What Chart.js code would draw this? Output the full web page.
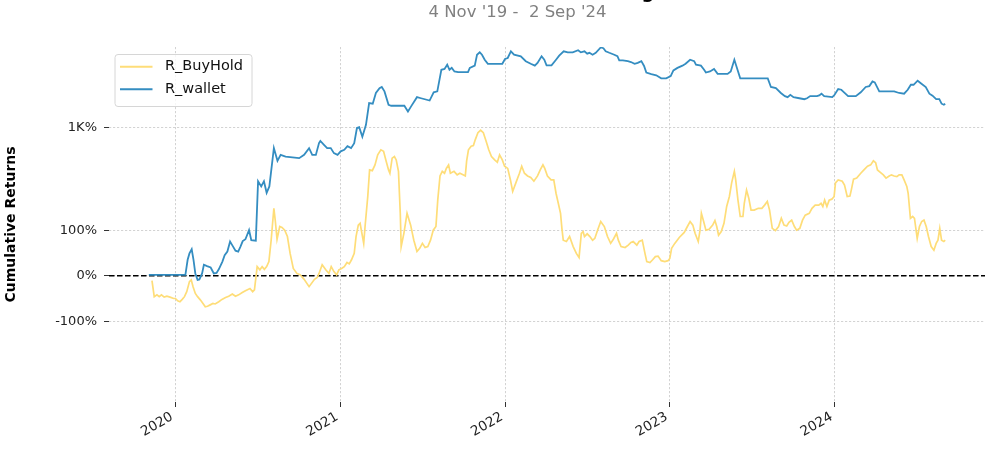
<!DOCTYPE html>
<html>
<head>
<meta charset="utf-8">
<script src="https://cdn.jsdelivr.net/npm/chart.js@4.4.1/dist/chart.umd.min.js"></script>
<style>
  body { margin: 0; background: #fff; }
  canvas { display: block; }
</style>
</head>
<body>
<canvas id="myChart" width="1000" height="455"></canvas>
<script>
// cumulative returns in %
const walletDates = ['2019-11-04','2020-01-24','2020-01-29','2020-02-02','2020-02-07','2020-02-11','2020-02-15','2020-02-20','2020-02-24','2020-03-01','2020-03-05','2020-03-12','2020-03-20','2020-03-27','2020-04-02','2020-04-07','2020-04-15','2020-04-20','2020-04-26','2020-05-02','2020-05-08','2020-05-14','2020-05-20','2020-05-25','2020-05-30','2020-06-05','2020-06-13','2020-06-18','2020-06-28','2020-07-03','2020-07-10','2020-07-16','2020-07-22','2020-07-28','2020-08-07','2020-08-15','2020-08-22','2020-09-02','2020-10-02','2020-10-13','2020-10-24','2020-10-31','2020-11-08','2020-11-15','2020-11-18','2020-11-26','2020-12-03','2020-12-11','2020-12-18','2020-12-26','2021-01-02','2021-01-10','2021-01-17','2021-01-25','2021-02-01','2021-02-07','2021-02-12','2021-02-19','2021-02-27','2021-03-06','2021-03-14','2021-03-21','2021-03-29','2021-04-03','2021-04-09','2021-04-18','2021-04-24','2021-05-23','2021-05-31','2021-06-07','2021-06-20','2021-06-29','2021-07-18','2021-07-27','2021-08-04','2021-08-13','2021-08-20','2021-08-26','2021-08-31','2021-09-05','2021-09-11','2021-09-19','2021-10-11','2021-10-15','2021-10-26','2021-10-31','2021-11-06','2021-11-11','2021-11-17','2021-11-24','2021-12-26','2022-01-01','2022-01-07','2022-01-14','2022-01-21','2022-02-05','2022-02-16','2022-02-27','2022-03-08','2022-03-14','2022-03-23','2022-03-29','2022-04-03','2022-04-14','2022-04-24','2022-05-01','2022-05-11','2022-05-20','2022-05-31','2022-06-12','2022-06-18','2022-06-26','2022-07-02','2022-07-07','2022-07-14','2022-07-21','2022-08-01','2022-08-07','2022-08-12','2022-08-20','2022-08-31','2022-09-07','2022-09-11','2022-09-19','2022-09-30','2022-10-07','2022-10-15','2022-10-22','2022-10-30','2022-11-05','2022-11-10','2022-11-21','2022-12-02','2022-12-13','2022-12-24','2023-01-03','2023-01-09','2023-01-18','2023-01-29','2023-02-05','2023-02-15','2023-02-24','2023-02-28','2023-03-11','2023-03-18','2023-03-22','2023-03-31','2023-04-09','2023-04-17','2023-05-09','2023-05-16','2023-05-24','2023-05-31','2023-06-06','2023-08-06','2023-08-13','2023-08-24','2023-09-04','2023-09-13','2023-09-19','2023-09-25','2023-10-02','2023-10-15','2023-10-26','2023-11-01','2023-11-08','2023-11-23','2023-11-28','2023-12-03','2023-12-09','2023-12-27','2024-01-01','2024-01-09','2024-01-16','2024-01-22','2024-01-31','2024-02-17','2024-02-28','2024-03-10','2024-03-18','2024-03-25','2024-03-30','2024-04-09','2024-05-12','2024-05-23','2024-06-03','2024-06-11','2024-06-18','2024-06-24','2024-07-03','2024-07-10','2024-07-21','2024-07-29','2024-08-05','2024-08-13','2024-08-20','2024-08-25','2024-08-30','2024-09-02'];
const walletPct = [2,2,35,49,58,35,5,-9,-8,5,24,21,18,5,6,14,31,45,53,75,65,55,53,64,76,80,100,78,77,220,196,220,182,196,557,390,461,440,420,461,557,461,461,641,681,611,557,557,484,461,509,531,588,557,641,980,1004,765,1072,1970,1940,2620,3000,3100,2740,1879,1830,1830,1560,1800,2330,2260,2120,2670,2740,5030,5150,5790,5030,5300,4800,4700,4700,5300,5640,7670,8200,7670,6670,5950,5950,6800,7000,8450,7670,7350,6400,5950,5640,6100,7350,6670,5700,5700,6670,7470,8450,8200,8200,8700,8200,8450,7900,8100,7670,8100,9400,9200,8450,8100,7670,7350,6550,6550,6400,6250,5950,6100,6400,5600,4650,4450,4300,3950,3950,4200,4930,5300,5640,5950,6670,6400,5790,5640,5030,4650,4800,5150,4480,4480,4800,6670,5030,3950,3950,3100,3000,2620,2400,2330,2490,2330,2260,2200,2260,2400,2400,2450,2570,2400,2330,2490,2920,2870,2670,2400,2400,2670,3100,3180,3620,3530,2740,2740,2620,2570,2870,3300,3300,3700,3450,3100,2570,2430,2200,2200,1940,1880,1940];

const buyHoldDates = ['2019-11-11','2019-11-16','2019-11-22','2019-11-27','2019-12-02','2019-12-08','2019-12-14','2019-12-21','2019-12-29','2020-01-02','2020-01-07','2020-01-12','2020-01-17','2020-01-22','2020-01-27','2020-02-02','2020-02-06','2020-02-10','2020-02-15','2020-02-20','2020-02-26','2020-03-03','2020-03-08','2020-03-13','2020-03-19','2020-03-25','2020-03-30','2020-04-07','2020-04-14','2020-04-22','2020-04-29','2020-05-07','2020-05-14','2020-05-21','2020-05-29','2020-06-05','2020-06-15','2020-06-21','2020-06-25','2020-07-01','2020-07-07','2020-07-12','2020-07-17','2020-07-22','2020-07-27','2020-08-01','2020-08-07','2020-08-10','2020-08-14','2020-08-20','2020-08-25','2020-08-31','2020-09-06','2020-09-12','2020-09-19','2020-09-27','2020-10-04','2020-10-13','2020-10-24','2020-11-05','2020-11-11','2020-11-15','2020-11-22','2020-11-30','2020-12-07','2020-12-12','2020-12-18','2020-12-24','2020-12-29','2021-01-04','2021-01-10','2021-01-16','2021-01-21','2021-01-26','2021-02-01','2021-02-05','2021-02-10','2021-02-14','2021-02-18','2021-02-22','2021-02-25','2021-03-03','2021-03-07','2021-03-13','2021-03-19','2021-03-25','2021-04-01','2021-04-07','2021-04-12','2021-04-18','2021-04-21','2021-04-26','2021-05-01','2021-05-05','2021-05-10','2021-05-14','2021-05-16','2021-05-22','2021-05-29','2021-06-06','2021-06-13','2021-06-20','2021-06-26','2021-07-02','2021-07-08','2021-07-14','2021-07-20','2021-07-26','2021-08-01','2021-08-05','2021-08-10','2021-08-15','2021-08-20','2021-08-24','2021-08-29','2021-09-02','2021-09-10','2021-09-17','2021-09-23','2021-09-30','2021-10-05','2021-10-08','2021-10-12','2021-10-18','2021-10-23','2021-10-27','2021-11-02','2021-11-08','2021-11-14','2021-11-20','2021-11-26','2021-12-02','2021-12-09','2021-12-15','2021-12-20','2021-12-26','2021-12-31','2022-01-07','2022-01-13','2022-01-18','2022-01-25','2022-02-02','2022-02-07','2022-02-13','2022-02-20','2022-02-27','2022-03-06','2022-03-14','2022-03-20','2022-03-26','2022-03-30','2022-04-05','2022-04-13','2022-04-19','2022-04-24','2022-04-29','2022-05-04','2022-05-07','2022-05-10','2022-05-17','2022-05-24','2022-06-01','2022-06-08','2022-06-14','2022-06-19','2022-06-23','2022-06-26','2022-07-02','2022-07-08','2022-07-14','2022-07-19','2022-07-25','2022-08-01','2022-08-09','2022-08-16','2022-08-23','2022-08-29','2022-09-05','2022-09-09','2022-09-15','2022-09-24','2022-10-01','2022-10-07','2022-10-12','2022-10-20','2022-10-25','2022-11-01','2022-11-07','2022-11-11','2022-11-18','2022-11-24','2022-11-30','2022-12-06','2022-12-13','2022-12-21','2022-12-28','2023-01-01','2023-01-05','2023-01-12','2023-01-22','2023-02-02','2023-02-09','2023-02-15','2023-02-21','2023-02-26','2023-03-05','2023-03-09','2023-03-12','2023-03-17','2023-03-22','2023-03-29','2023-04-06','2023-04-11','2023-04-15','2023-04-19','2023-04-25','2023-05-01','2023-05-07','2023-05-13','2023-05-18','2023-05-24','2023-05-27','2023-06-01','2023-06-06','2023-06-12','2023-06-15','2023-06-20','2023-06-25','2023-06-30','2023-07-07','2023-07-16','2023-07-24','2023-07-30','2023-08-05','2023-08-10','2023-08-16','2023-08-23','2023-08-30','2023-09-05','2023-09-11','2023-09-17','2023-09-22','2023-09-28','2023-10-04','2023-10-09','2023-10-16','2023-10-22','2023-10-28','2023-11-06','2023-11-12','2023-11-19','2023-11-27','2023-12-02','2023-12-06','2023-12-10','2023-12-15','2023-12-20','2023-12-26','2023-12-31','2024-01-03','2024-01-09','2024-01-18','2024-01-23','2024-01-29','2024-02-04','2024-02-07','2024-02-12','2024-02-19','2024-02-28','2024-03-06','2024-03-14','2024-03-21','2024-03-27','2024-04-01','2024-04-05','2024-04-12','2024-04-18','2024-04-24','2024-05-01','2024-05-06','2024-05-12','2024-05-18','2024-05-23','2024-05-29','2024-06-03','2024-06-09','2024-06-12','2024-06-17','2024-06-22','2024-06-26','2024-07-02','2024-07-07','2024-07-12','2024-07-17','2024-07-22','2024-07-27','2024-08-02','2024-08-08','2024-08-13','2024-08-17','2024-08-21','2024-08-25','2024-08-30','2024-09-02'];
const buyHoldPct = [-11,-46,-42,-46,-42,-47,-45,-47,-50,-50,-55,-57,-52,-46,-35,-13,-9,-24,-39,-46,-53,-61,-68,-67,-64,-61,-62,-57,-52,-48,-45,-40,-45,-42,-37,-33,-28,-35,-31,20,13,20,14,20,31,78,148,122,80,108,106,100,86,49,16,5,2,-8,-24,-8,-4,5,24,13,5,20,9,2,13,16,20,29,26,35,49,86,111,115,93,71,108,174,302,296,348,461,531,509,400,302,275,420,440,400,290,137,64,93,137,111,78,53,60,71,62,64,78,100,108,166,255,290,275,315,348,275,290,263,275,263,255,390,531,588,598,703,860,920,860,681,531,440,400,375,461,400,335,315,228,185,210,275,335,275,255,245,220,255,302,348,315,255,228,228,181,159,137,104,78,75,86,64,49,40,93,97,86,92,86,78,82,100,119,108,86,71,80,93,78,64,62,67,73,75,67,75,78,49,31,29,35,42,43,33,31,33,38,60,71,84,95,108,119,111,93,75,100,137,119,100,102,111,121,108,89,97,115,152,174,210,290,228,166,130,130,159,188,170,144,144,148,148,155,163,144,104,99,108,126,111,109,117,122,108,100,104,122,133,137,148,155,155,159,152,166,152,166,168,174,210,228,220,199,174,175,188,233,240,275,302,335,348,390,370,302,280,263,240,255,263,255,250,263,263,228,196,181,126,130,126,82,108,119,122,108,86,64,56,71,78,104,78,75,78];

const seriesNames = ['R_BuyHold', 'R_wallet'];
const seriesColors = ['#fedd78', '#348dc1'];
const yTickValues = [-100, 0, 100, 1000];
const xTickYears = [2020, 2021, 2022, 2023, 2024];
const titleText = 'Cumulative Returns vs Benchmark (Log Scaled)';
const subtitleText = "4 Nov '19 -  2 Sep '24";

// symmetric log transform like matplotlib symlog (linthresh 2, base 10), values are fractions
const LIN = 2, LSC = 1 / (1 - 1 / 10);
function symlog(v) {
  const a = Math.abs(v);
  return a <= LIN ? v * LSC : Math.sign(v) * LIN * (LSC + Math.log10(a / LIN));
}
function symexp(t) {
  const a = Math.abs(t);
  return a <= LIN * LSC ? t / LSC : Math.sign(t) * LIN * Math.pow(10, a / LIN - LSC);
}

class SymLogScale extends Chart.LinearScale {
  getPixelForValue(value) {
    if (value === null || value === undefined || isNaN(value)) return NaN;
    const a = symlog(this.min / 100), b = symlog(this.max / 100);
    return this.getPixelForDecimal((symlog(value / 100) - a) / (b - a));
  }
  getValueForPixel(pixel) {
    const a = symlog(this.min / 100), b = symlog(this.max / 100);
    return symexp(a + this.getDecimalForPixel(pixel) * (b - a)) * 100;
  }
}
SymLogScale.id = 'symlog';
SymLogScale.defaults = {};
Chart.register(SymLogScale);

Chart.defaults.font.family = 'DejaVu Sans';
Chart.defaults.color = '#222';

const toPoints = (dates, vals) => dates.map((d, i) => ({ x: Date.parse(d), y: vals[i] }));
const t0 = Date.parse(walletDates[0]);
const t1 = Date.parse(walletDates[walletDates.length - 1]);
const pad = (t1 - t0) * 0.05;

const zeroLine = {
  id: 'zeroLine',
  beforeDatasetsDraw(chart) {
    const { ctx, chartArea, scales } = chart;
    const y = scales.y.getPixelForValue(0);
    ctx.save();
    ctx.strokeStyle = '#000';
    ctx.lineWidth = 1.4;
    ctx.setLineDash([5.5, 2.5]);
    ctx.beginPath();
    ctx.moveTo(chartArea.left, y);
    ctx.lineTo(chartArea.right, y);
    ctx.stroke();
    ctx.restore();
  }
};

const headerAndLegend = {
  id: 'headerAndLegend',
  afterDraw(chart) {
    const ctx = chart.ctx;
    ctx.save();
    // suptitle, cut off at the top like the original
    ctx.font = 'bold 18px "DejaVu Sans"';
    ctx.fillStyle = '#000';
    ctx.textAlign = 'right';
    ctx.textBaseline = 'alphabetic';
    ctx.fillText(titleText, 736, -2);
    // date range subtitle
    ctx.font = '16.5px "DejaVu Sans"';
    ctx.fillStyle = '#808080';
    ctx.textAlign = 'center';
    ctx.fillText(subtitleText, 517.5, 17.3);

    // legend box
    const bx = 115, by = 54.5, bw = 137, bh = 52, r = 3;
    ctx.beginPath();
    ctx.moveTo(bx + r, by);
    ctx.arcTo(bx + bw, by, bx + bw, by + bh, r);
    ctx.arcTo(bx + bw, by + bh, bx, by + bh, r);
    ctx.arcTo(bx, by + bh, bx, by, r);
    ctx.arcTo(bx, by, bx + bw, by, r);
    ctx.closePath();
    ctx.fillStyle = 'rgba(255,255,255,0.8)';
    ctx.fill();
    ctx.strokeStyle = '#d6d6d6';
    ctx.lineWidth = 1;
    ctx.stroke();

    ctx.font = '14.5px "DejaVu Sans"';
    ctx.textAlign = 'left';
    ctx.textBaseline = 'middle';
    chart.data.datasets.forEach((ds, i) => {
      const ly = 66.7 + i * 22.6;
      ctx.strokeStyle = ds.borderColor;
      ctx.lineWidth = 2;
      ctx.beginPath();
      ctx.moveTo(120, ly);
      ctx.lineTo(152.5, ly);
      ctx.stroke();
      ctx.fillStyle = '#111';
      ctx.fillText(ds.label, 165, ly);
    });
    ctx.restore();
  }
};

const gridStyle = {
  color: '#c8c8c8',
  lineWidth: 0.8,
  tickColor: '#333',
  tickLength: 5,
  tickWidth: 1
};

const config = {
  type: 'line',
  data: {
    datasets: [{
      label: seriesNames[0],
      data: toPoints(buyHoldDates, buyHoldPct),
      borderColor: seriesColors[0],
      borderWidth: 1.7,
      pointRadius: 0,
      tension: 0,
      order: 1
    }, {
      label: seriesNames[1],
      data: toPoints(walletDates, walletPct),
      borderColor: seriesColors[1],
      borderWidth: 1.8,
      pointRadius: 0,
      tension: 0,
      order: 0
    }]
  },
  options: {
    responsive: false,
    animation: false,
    events: [],
    layout: { padding: { top: 47, right: 15, left: 0, bottom: 0 } },
    plugins: {
      legend: { display: false },
      title: { display: false },
      tooltip: { enabled: false }
    },
    scales: {
      x: {
        type: 'linear',
        min: t0 - pad,
        max: t1 + pad,
        afterBuildTicks: s => { s.ticks = xTickYears.map(y => ({ value: Date.UTC(y, 0, 1) })); },
        afterFit: s => { s.height = 53; },
        ticks: {
          autoSkip: false,
          minRotation: 30,
          maxRotation: 30,
          padding: 2,
          labelOffset: -3,
          font: { size: 13.5 },
          color: '#222',
          callback: v => String(new Date(v).getUTCFullYear())
        },
        grid: gridStyle,
        border: { display: false, dash: [2.2, 1.8] }
      },
      y: {
        type: 'symlog',
        min: -537,
        max: 9530,
        afterBuildTicks: s => { s.ticks = yTickValues.map(v => ({ value: v })); },
        afterFit: s => { s.width = 109; },
        ticks: {
          padding: 7,
          font: { size: 13 },
          color: '#222',
          callback: v => (Math.abs(v) >= 1000 ? (v / 1000) + 'K' : v) + '%'
        },
        grid: gridStyle,
        border: { display: false, dash: [2.2, 1.8] },
        title: {
          display: true,
          text: 'Cumulative Returns',
          font: { size: 14, weight: 'bold' },
          color: '#000',
          padding: { top: 3, bottom: 0 }
        }
      }
    }
  },
  plugins: [zeroLine, headerAndLegend]
};

const ctx = document.getElementById('myChart').getContext('2d');
const grafica = new Chart(ctx, config);
</script>
</body>
</html>
